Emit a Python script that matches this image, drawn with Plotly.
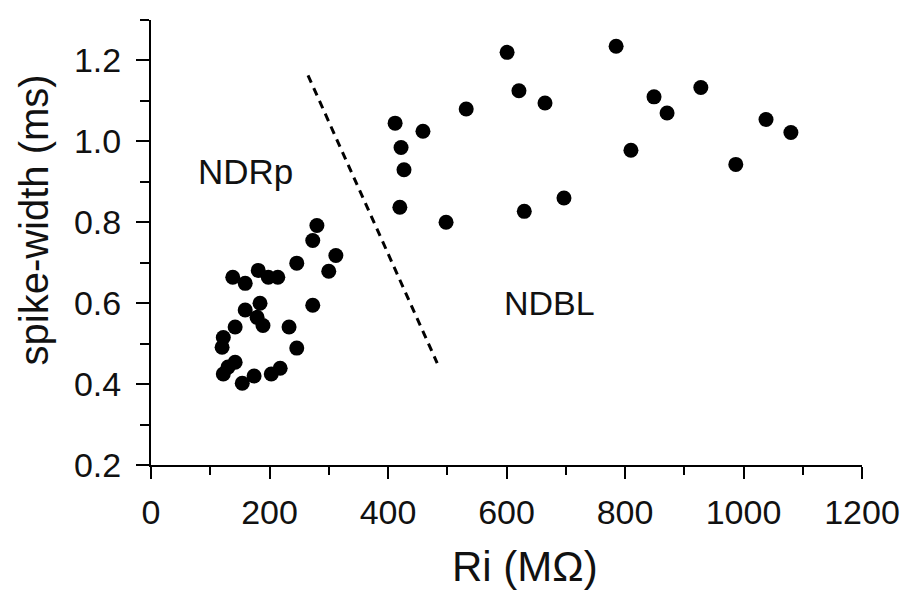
import plotly.graph_objects as go

# NDRp cluster (Ri in MOhm, spike width in ms)
ndrp_ri = [138, 159, 181, 198, 214, 246, 300, 312, 273, 159, 184, 179, 189, 142,
           233, 122, 120, 246, 142, 130, 122, 154, 174, 203, 218, 280, 273]
ndrp_sw = [0.664, 0.649, 0.681, 0.664, 0.664, 0.699, 0.679, 0.718, 0.595, 0.583,
           0.600, 0.565, 0.545, 0.541, 0.541, 0.515, 0.491, 0.489, 0.454, 0.442,
           0.425, 0.402, 0.420, 0.425, 0.439, 0.792, 0.755]

# NDBL group
ndbl_ri = [601, 785, 621, 665, 532, 412, 459, 422, 427, 420, 498, 630, 697,
           849, 871, 928, 810, 987, 1038, 1080]
ndbl_sw = [1.220, 1.235, 1.125, 1.095, 1.080, 1.045, 1.025, 0.985, 0.930, 0.837,
           0.800, 0.827, 0.860, 1.110, 1.070, 1.133, 0.978, 0.943, 1.054, 1.022]

# dividing dashed line
div_ri = [265, 483]
div_sw = [1.163, 0.452]

x_ticks = [0, 200, 400, 600, 800, 1000, 1200]
y_ticks = [0.2, 0.4, 0.6, 0.8, 1.0, 1.2]
y_tick_text = ["0.2", "0.4", "0.6", "0.8", "1.0", "1.2"]

FONT = "Liberation Sans, Arial, Helvetica, sans-serif"

fig = go.Figure()
fig.add_trace(go.Scatter(x=div_ri, y=div_sw, mode="lines",
                         line=dict(color="black", width=3, dash="8px,6px"),
                         hoverinfo="skip", showlegend=False))
fig.add_trace(go.Scatter(x=ndrp_ri, y=ndrp_sw, mode="markers",
                         marker=dict(color="black", size=15, line=dict(width=0)),
                         showlegend=False))
fig.add_trace(go.Scatter(x=ndbl_ri, y=ndbl_sw, mode="markers",
                         marker=dict(color="black", size=15, line=dict(width=0)),
                         showlegend=False))

fig.update_layout(
    width=908, height=598,
    margin=dict(l=143, r=54, t=12, b=141),
    paper_bgcolor="white", plot_bgcolor="white",
    font=dict(family=FONT, color="#111", size=34),
    xaxis=dict(range=[0, 1200], tickvals=x_ticks, ticks="outside", ticklen=12,
               tickwidth=2, tickcolor="black", showline=True, linecolor="black",
               linewidth=2, showgrid=False, zeroline=False, automargin=False,
               tickfont=dict(size=34, family=FONT), ticklabelstandoff=4,
               minor=dict(ticks="outside", ticklen=8, tickwidth=2,
                          tickcolor="black", dtick=100, showgrid=False)),
    yaxis=dict(range=[0.2, 1.3], tickvals=y_ticks, ticktext=y_tick_text,
               ticks="outside", ticklen=13, tickwidth=2, tickcolor="black",
               showline=True, linecolor="black", linewidth=2, showgrid=False,
               zeroline=False, automargin=False,
               tickfont=dict(size=34, family=FONT), ticklabelstandoff=8,
               minor=dict(ticks="outside", ticklen=9, tickwidth=2,
                          tickcolor="black", dtick=0.1, tick0=0.2, showgrid=False)),
    annotations=[
        dict(text="NDRp", x=160, y=0.926, xref="x", yref="y", showarrow=False,
             font=dict(size=35, family=FONT, color="#111")),
        dict(text="NDBL", x=673, y=0.60, xref="x", yref="y", showarrow=False,
             font=dict(size=34, family=FONT, color="#111")),
        dict(text="Ri (M\u03a9)", x=0.526, y=-0.229, xref="paper", yref="paper",
             showarrow=False, xanchor="center", yanchor="middle",
             font=dict(size=42, family=FONT, color="#111")),
        dict(text="spike-width (ms)", x=-0.165, y=0.551, xref="paper", yref="paper",
             showarrow=False, textangle=-90, xanchor="center", yanchor="middle",
             borderpad=0,
             font=dict(size=40, family=FONT, color="#111")),
    ],
)

fig.write_html("out.html")
